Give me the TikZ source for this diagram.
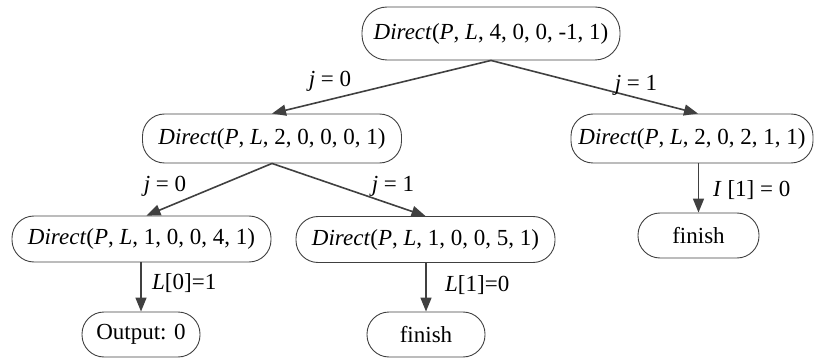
\documentclass[tikz,border=0pt]{standalone}
\usepackage{fontspec}
\setmainfont{Liberation Serif}
\usetikzlibrary{arrows.meta}
\definecolor{edgegray}{HTML}{404040}
\begin{document}
\begin{tikzpicture}[x=1pt, y=-1pt,
  callbox/.style={draw=edgegray, line width=0.9pt, rounded corners=22pt,
    inner sep=0pt, font=\fontsize{23}{27}\selectfont, text=black},
  arr/.style={draw=edgegray, line width=1.6pt,
    -{Triangle[length=14pt,width=11pt]}},
  lbl/.style={font=\fontsize{23}{27}\selectfont, inner sep=0pt}]
\useasboundingbox (0,0) rectangle (819,358);

% call tree
\node[callbox, rounded corners=25pt, minimum width=258pt, minimum height=53pt] (root) at (491,33.5)
  {\textit{Direct}(\textit{P}, \textit{L}, 4, 0, 0, -1, 1)};
\node[callbox, minimum width=259pt, minimum height=49pt] (l2a) at (272,138.5)
  {\textit{Direct}(\textit{P}, \textit{L}, 2, 0, 0, 0, 1)};
\node[callbox, minimum width=242pt, minimum height=49pt] (l2b) at (692,138.5)
  {\textit{Direct}(\textit{P}, \textit{L}, 2, 0, 2, 1, 1)};
\node[callbox, minimum width=259pt, minimum height=46pt] (l3a) at (141.5,239)
  {\textit{Direct}(\textit{P}, \textit{L}, 1, 0, 0, 4, 1)};
\node[callbox, minimum width=259pt, minimum height=46pt] (l3b) at (425.5,239.5)
  {\textit{Direct}(\textit{P}, \textit{L}, 1, 0, 0, 5, 1)};

% leaves
\node[callbox, minimum width=118pt, minimum height=45pt] (out) at (141,334.5) {Output: 0};
\node[callbox, minimum width=118pt, minimum height=45pt] (fin1) at (426,334.5) {finish};
\node[callbox, minimum width=121pt, minimum height=45pt] (fin2) at (698.5,235.5) {finish};

% branches
\draw[arr] (root.south) -- (l2a.north);
\draw[arr] (root.south) -- ([xshift=6pt]l2b.north);
\draw[arr] (l2a.south) -- ([xshift=5pt]l3a.north);
\draw[arr] (l2a.south) -- (l3b.north);
\draw[arr] (l3a.south -| out.north) -- (out.north);
\draw[arr] (l3b.south -| fin1.north) -- (fin1.north);
\draw[arr] (l2b.south -| fin2.north) -- (fin2.north);

% branch labels
\node[lbl] (j0a) at (330,81) {\textit{j} = 0};
\node[lbl] (j1a) at (636,85) {\textit{j} = 1};
\node[lbl] (j0b) at (165,186) {\textit{j} = 0};
\node[lbl] (j1b) at (393,186) {\textit{j} = 1};
\node[lbl, anchor=west] (c0) at (152,283) {\textit{L}[0]=1};
\node[lbl, anchor=west] (c1) at (445,285) {\textit{L}[1]=0};
\node[lbl, anchor=west] (c2) at (713,190) {\textit{I} [1] = 0};
\end{tikzpicture}
\end{document}
